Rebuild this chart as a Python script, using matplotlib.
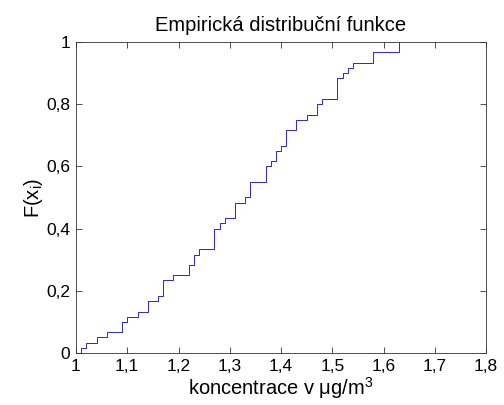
import matplotlib
matplotlib.use("Agg")
import matplotlib.pyplot as plt
import numpy as np

plt.rcParams['font.family'] = ['Liberation Sans', 'DejaVu Sans']
plt.rcParams['mathtext.default'] = 'regular'

# measured concentrations (ug/m3), read from the step positions
values = [1.01, 1.02, 1.04, 1.06, 1.09, 1.09, 1.10, 1.12, 1.14, 1.14,
          1.16, 1.17, 1.17, 1.17, 1.19, 1.22, 1.22, 1.23, 1.23, 1.24,
          1.27, 1.27, 1.27, 1.27, 1.28, 1.29, 1.31, 1.31, 1.31, 1.33,
          1.34, 1.34, 1.34, 1.37, 1.37, 1.37, 1.38, 1.39, 1.39, 1.40,
          1.41, 1.41, 1.41, 1.43, 1.43, 1.45, 1.47, 1.47, 1.48, 1.51,
          1.51, 1.51, 1.51, 1.52, 1.53, 1.54, 1.58, 1.58, 1.63, 1.63]

x_ticks = [1.0, 1.1, 1.2, 1.3, 1.4, 1.5, 1.6, 1.7, 1.8]
x_labels = ['1', '1,1', '1,2', '1,3', '1,4', '1,5', '1,6', '1,7', '1,8']
y_ticks = [0, 0.2, 0.4, 0.6, 0.8, 1.0]
y_labels = ['0', '0,2', '0,4', '0,6', '0,8', '1']

# empirical cdf
xs = np.sort(np.array(values))
ux, counts = np.unique(xs, return_counts=True)
F = np.cumsum(counts) / len(xs)
step_x = np.concatenate([[ux[0]], ux])
step_y = np.concatenate([[0.0], F])

fig = plt.figure(figsize=(5.04, 4.05), dpi=100)
ax = fig.add_axes([76 / 504, 1 - 353 / 405, 410 / 504, 311 / 405])

ax.step(step_x, step_y, where='post', color='#0000ff', lw=0.6)

ax.set_xlim(1.0, 1.8)
ax.set_ylim(0, 1)
ax.set_xticks(x_ticks)
ax.set_xticklabels(x_labels)
ax.set_yticks(y_ticks)
ax.set_yticklabels(y_labels)
ax.tick_params(direction='in', top=True, right=True, length=4, width=0.6,
               labelsize=12.5, color='#333333', pad=4)
for s in ax.spines.values():
    s.set_linewidth(0.6)
    s.set_color('#333333')

ax.set_title('Empirická distribuční funkce', fontsize=14.5, pad=8)
ax.set_xlabel('koncentrace v μg/m$^3$', fontsize=14.5, labelpad=1)
ax.set_ylabel('F(x$_i$)', fontsize=14.5, labelpad=1)

fig.savefig('out.png', dpi=100)
